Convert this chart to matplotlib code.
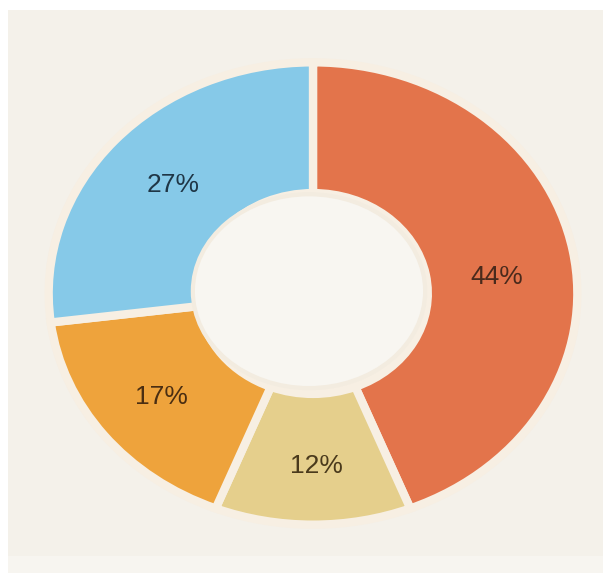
import matplotlib
matplotlib.use("Agg")
import matplotlib.pyplot as plt
from matplotlib.patches import Rectangle, Ellipse
import numpy as np

# Data
labels = ["44%", "12%", "17%", "27%"]
values = [44, 12, 17, 27]
colors = ["#e3744b", "#e5cf8c", "#eea33c", "#86c9e8"]
text_colors = ["#4a2a1c", "#4a3a1c", "#4a2e12", "#1f3646"]

W, H = 603, 573
fig = plt.figure(figsize=(W / 100, H / 100), dpi=100)
fig.patch.set_facecolor("white")

# cream background panel
bg = fig.add_axes([0, 0, 1, 1])
bg.set_xlim(0, W)
bg.set_ylim(H, 0)
bg.axis("off")
bg.add_patch(Rectangle((8, 10), W - 8, H - 10, facecolor="#f4f1ea", edgecolor="none"))
bg.add_patch(Rectangle((8, 556), W - 8, H - 556, facecolor="#f7f5f0", edgecolor="none"))

# donut axes spanning outer ellipse bounds (px, top-down)
x0, x1, y0, y1 = 46, 580, 60, 527
ax = fig.add_axes([x0 / W, (H - y1) / H, (x1 - x0) / W, (y1 - y0) / H])
ax.axis("off")

# faint outer halo
ax.add_patch(Ellipse((0, 0), 2.01, 2.01, facecolor="#f6eee2", edgecolor="none", zorder=0))

wedges, texts = ax.pie(
    values,
    startangle=90,
    counterclock=False,
    colors=colors,
    radius=0.99,
    wedgeprops=dict(width=0.56, edgecolor="#f7efe3", linewidth=6),
    labels=labels,
    labeldistance=None,
)
# inner hole fill
ax.add_patch(Ellipse((-0.015, 0.01), 0.87, 0.83, facecolor="#f8f6f1", edgecolor="#f3ece0",
                     linewidth=3, zorder=5))

ax.set_aspect("auto")
ax.set_xlim(-1, 1)
ax.set_ylim(-1, 1)

# label placement (style): radius and small angular shift per label
r_lab = [0.69, 0.74, 0.72, 0.70]
ang_shift = [-5, 1, 0, 0]
start = 90.0
total = sum(values)
for v, lab, tc, rl, sh in zip(values, labels, text_colors, r_lab, ang_shift):
    ang = start - v / total * 360 / 2 + sh
    start -= v / total * 360
    ax.text(rl * np.cos(np.radians(ang)), rl * np.sin(np.radians(ang)), lab,
            ha="center", va="center", fontsize=19, color=tc,
            family="Liberation Sans", zorder=10)

fig.savefig("out.png", dpi=100, facecolor="white")
